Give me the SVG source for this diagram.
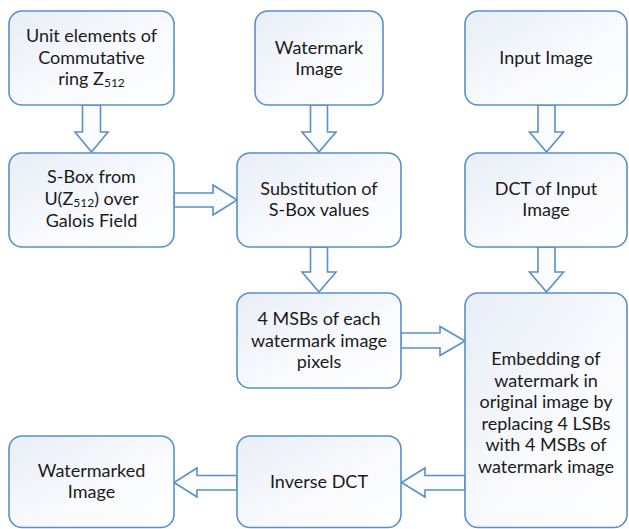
<svg xmlns="http://www.w3.org/2000/svg" width="629" height="529" viewBox="0 0 629 529">
<defs>
<linearGradient id="g" x1="0" y1="0" x2="1" y2="1">
<stop offset="0" stop-color="#e8eef7"/>
<stop offset="0.55" stop-color="#f8fafd"/>
<stop offset="1" stop-color="#ffffff"/>
</linearGradient>
<style>
.box{fill:url(#g);stroke:#5a8fc8;stroke-width:1.6}
.arr{fill:#fafcfe;stroke:#5a8fc8;stroke-width:1.6;stroke-linejoin:miter}
text{font-family:Lato,"Open Sans","Liberation Sans",sans-serif;font-size:18px;fill:#1a1a1a;text-anchor:middle}
.sub{font-size:12px}
</style>
</defs>
<g id="connectors">
<polygon class="arr" points="82.5,105 100.5,105 100.5,132 108,132 91.5,152 75,132 82.5,132"/>
<polygon class="arr" points="310.5,105 327.5,105 327.5,132 336,132 319,152 302,132 310.5,132"/>
<polygon class="arr" points="538,105 555,105 555,132 563.5,132 546.5,152 529.5,132 538,132"/>
<polygon class="arr" points="310.5,247 327.5,247 327.5,272 336,272 319,292 302,272 310.5,272"/>
<polygon class="arr" points="538,247 555,247 555,272 563.5,272 546.5,292 529.5,272 538,272"/>
<polygon class="arr" points="174,193 213,193 213,185 237,200 213,215 213,207 174,207"/>
<polygon class="arr" points="401,333 440,333 440,326.5 465,341 440,355.5 440,348 401,348"/>
<polygon class="arr" points="465,475.5 425,475.5 425,468 401.5,482.5 425,497 425,490 465,490"/>
<polygon class="arr" points="237,475.5 197,475.5 197,468 174,482.5 197,497 197,490 237,490"/>
</g>
<g id="unit-elements">
<rect class="box" x="9" y="11" width="165" height="94" rx="13"/>
<text x="91.5" y="42">Unit elements of</text>
<text x="91.5" y="63.5">Commutative</text>
<text x="91.5" y="85">ring Z<tspan class="sub" dy="2">512</tspan></text>
</g>
<g id="watermark-image">
<rect class="box" x="255" y="11" width="128" height="94" rx="13"/>
<text x="319" y="54">Watermark</text>
<text x="319" y="75">Image</text>
</g>
<g id="input-image">
<rect class="box" x="465" y="11" width="162" height="94" rx="13"/>
<text x="546" y="64">Input Image</text>
</g>
<g id="sbox">
<rect class="box" x="9" y="153" width="165" height="94" rx="13"/>
<text x="91.5" y="183">S-Box from</text>
<text x="91.5" y="204.5">U(Z<tspan class="sub" dy="2">512</tspan><tspan dy="-2">) over</tspan></text>
<text x="91.5" y="226.5">Galois Field</text>
</g>
<g id="substitution">
<rect class="box" x="237" y="153" width="164" height="94" rx="13"/>
<text x="319" y="195">Substitution of</text>
<text x="319" y="216">S-Box values</text>
</g>
<g id="dct">
<rect class="box" x="465" y="153" width="162" height="94" rx="13"/>
<text x="546" y="195">DCT of Input</text>
<text x="546" y="216">Image</text>
</g>
<g id="msbs">
<rect class="box" x="237" y="293" width="164" height="95" rx="13"/>
<text x="319" y="325">4 MSBs of each</text>
<text x="319" y="346.5">watermark image</text>
<text x="319" y="368">pixels</text>
</g>
<g id="embedding">
<rect class="box" x="465" y="293" width="162" height="234.5" rx="13"/>
<text x="546" y="365">Embedding of</text>
<text x="546" y="386.5">watermark in</text>
<text x="546" y="408">original image by</text>
<text x="546" y="429.5">replacing 4 LSBs</text>
<text x="546" y="451">with 4 MSBs of</text>
<text x="546" y="472.5">watermark image</text>
</g>
<g id="inverse-dct">
<rect class="box" x="237" y="436" width="164" height="91.5" rx="13"/>
<text x="319" y="488">Inverse DCT</text>
</g>
<g id="watermarked">
<rect class="box" x="9" y="436" width="165" height="91.5" rx="13"/>
<text x="91.5" y="477">Watermarked</text>
<text x="91.5" y="498">Image</text>
</g>
</svg>
